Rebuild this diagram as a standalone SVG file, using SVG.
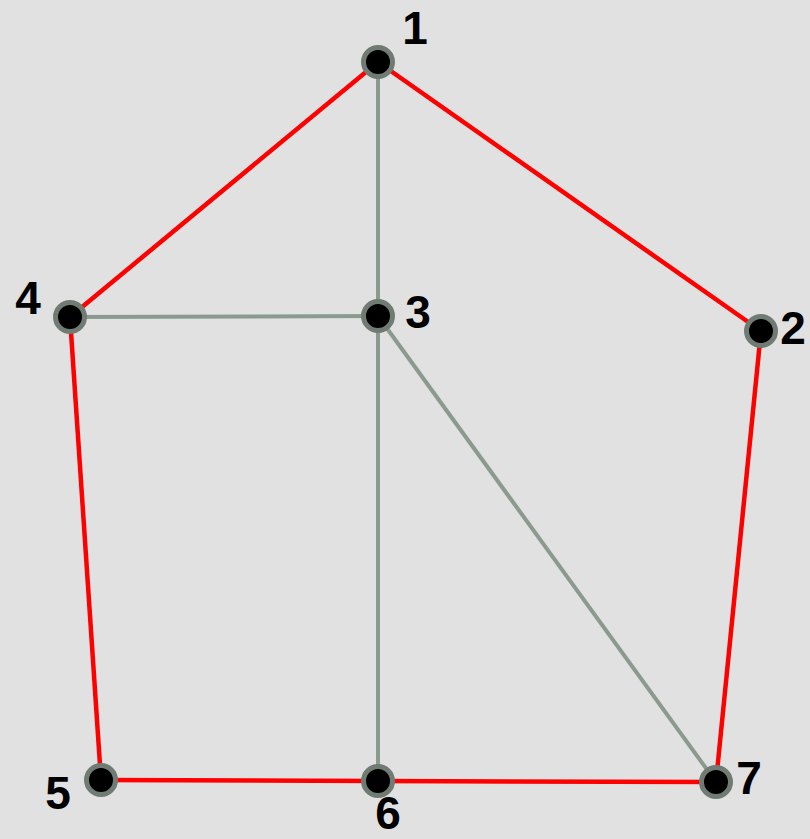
<svg xmlns="http://www.w3.org/2000/svg" width="810" height="839" viewBox="0 0 810 839">
<style>
.red{stroke:#ff0000;stroke-width:4.5;fill:none;stroke-linecap:round}
.gray{stroke:#8b9a8f;stroke-width:4;fill:none}
.node circle{fill:#000;stroke:#6f7b73;stroke-width:5}
.lbl{font-family:"Liberation Sans",Arial,sans-serif;font-weight:bold;font-size:46px;fill:#000;text-anchor:middle}
</style>
<rect width="810" height="839" fill="#e1e1e1"/>
<g id="connectors">
<line class="gray" x1="378" y1="62" x2="378" y2="316"/>
<line class="gray" x1="70" y1="317" x2="378" y2="316"/>
<line class="gray" x1="378" y1="316" x2="378" y2="781"/>
<line class="gray" x1="378" y1="316" x2="716" y2="782"/>
<line class="red" x1="378" y1="62" x2="70" y2="317"/>
<line class="red" x1="378" y1="62" x2="761" y2="331"/>
<line class="red" x1="761" y1="331" x2="716" y2="782"/>
<line class="red" x1="70" y1="317" x2="101" y2="780"/>
<line class="red" x1="101" y1="780" x2="378" y2="781"/>
<line class="red" x1="378" y1="781" x2="716" y2="782"/>
</g>
<g id="node1" class="node"><circle cx="378" cy="62" r="14.5"/><text class="lbl" x="415" y="44">1</text></g>
<g id="node2" class="node"><circle cx="761" cy="331" r="14.5"/><text class="lbl" x="793" y="344">2</text></g>
<g id="node3" class="node"><circle cx="378" cy="316" r="14.5"/><text class="lbl" x="418" y="328">3</text></g>
<g id="node4" class="node"><circle cx="70" cy="317" r="14.5"/><text class="lbl" x="28" y="314">4</text></g>
<g id="node5" class="node"><circle cx="101" cy="780" r="14.5"/><text class="lbl" x="58" y="809">5</text></g>
<g id="node6" class="node"><circle cx="378" cy="781" r="14.5"/><text class="lbl" x="388" y="829">6</text></g>
<g id="node7" class="node"><circle cx="716" cy="782" r="14.5"/><text class="lbl" x="749" y="794">7</text></g>
</svg>
